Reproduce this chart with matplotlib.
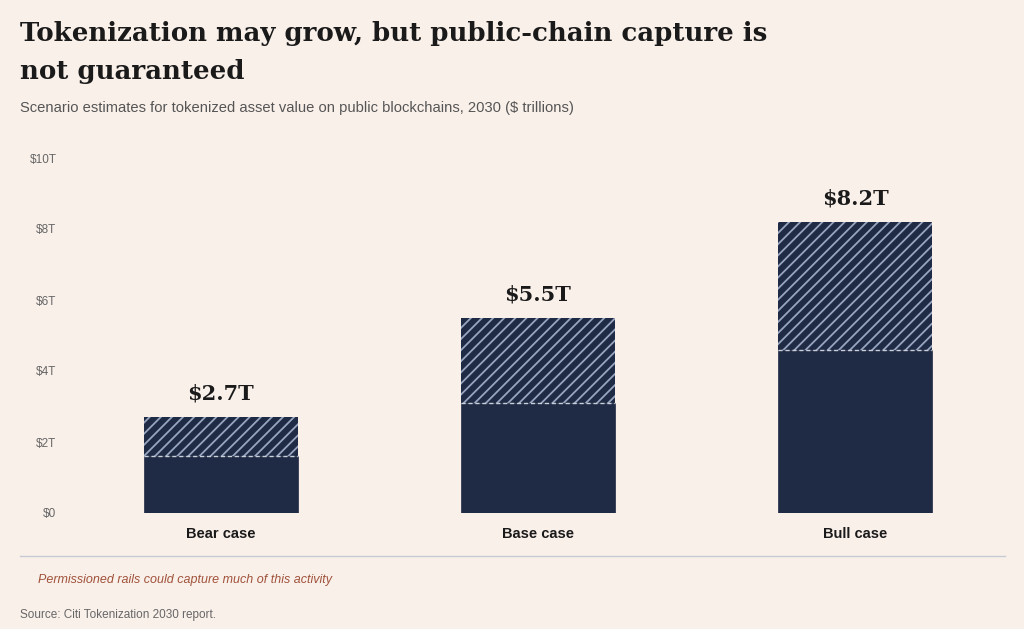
import matplotlib.pyplot as plt
import matplotlib as mpl

# donnees (en milliers de milliards $)
categories = ['Bear case', 'Base case', 'Bull case']
public_part = [1.6, 3.1, 4.6]
total_value = [2.7, 5.5, 8.2]
value_labels = ['$2.7T', '$5.5T', '$8.2T']
y_ticks = [0, 2, 4, 6, 8, 10]
y_tick_labels = ['$0', '$2T', '$4T', '$6T', '$8T', '$10T']

bg = '#faf0ea'
navy = '#1f2a44'
hatch_col = '#97a5c0'
sans = ['Liberation Sans', 'DejaVu Sans']
serif = 'DejaVu Serif'

mpl.rcParams['hatch.color'] = hatch_col
mpl.rcParams['hatch.linewidth'] = 1.3
plt.rcParams['font.family'] = sans

fig = plt.figure(figsize=(10.24, 6.29), dpi=100, facecolor=bg)
ax = fig.add_axes([62 / 1024, 1 - 513 / 629, (1014 - 62) / 1024, (513 - 158) / 629])
ax.set_facecolor(bg)

x = list(range(len(categories)))
upper = [t - p for t, p in zip(total_value, public_part)]

ax.bar(x, public_part, width=0.486, color=navy, edgecolor=navy, linewidth=0.5)
ax.bar(x, upper, bottom=public_part, width=0.486, color=navy, hatch='///',
       edgecolor=hatch_col, linewidth=0)

# ligne pointillee a la separation
for xi, p in zip(x, public_part):
    ax.plot([xi - 0.243, xi + 0.243], [p, p], color='#c9d0dc', linestyle=(0, (3, 2)), linewidth=1)

for xi, t, lab in zip(x, total_value, value_labels):
    ax.text(xi, t + 0.38, lab, ha='center', va='bottom', fontsize=15,
            fontweight='bold', family=serif, color='#1a1a1a')

ax.set_xlim(-0.5, 2.5)
ax.set_ylim(0, 10)
ax.set_yticks(y_ticks)
ax.set_yticklabels(y_tick_labels, fontsize=8.5, color='#666666')
ax.set_xticks(x)
ax.set_xticklabels(categories, fontsize=10.5, fontweight='bold', color='#1a1a1a')
ax.tick_params(axis='both', length=0)
ax.tick_params(axis='y', pad=4)
ax.tick_params(axis='x', pad=10)
for s in ax.spines.values():
    s.set_visible(False)

# titres et notes
fig.text(20 / 1024, 1 - 33 / 629, "Tokenization may grow, but public-chain capture is",
         fontsize=18.7, fontweight='bold', family=serif, color='#1a1a1a', va='center')
fig.text(20 / 1024, 1 - 72 / 629, "not guaranteed",
         fontsize=18.7, fontweight='bold', family=serif, color='#1a1a1a', va='center')
fig.text(20 / 1024, 1 - 108 / 629,
         "Scenario estimates for tokenized asset value on public blockchains, 2030 ($ trillions)",
         fontsize=10.65, color='#555555', va='center')

fig.add_artist(plt.Line2D([20 / 1024, 1005 / 1024], [1 - 556 / 629, 1 - 556 / 629],
                          color='#c5cbd3', linewidth=1))
fig.text(38 / 1024, 1 - 580 / 629, "Permissioned rails could capture much of this activity",
         fontsize=9, style='italic', color='#a0523a', va='center')
fig.text(20 / 1024, 1 - 615 / 629, "Source: Citi Tokenization 2030 report.",
         fontsize=8.5, color='#666666', va='center')

fig.savefig('out.png', dpi=100, facecolor=bg)
